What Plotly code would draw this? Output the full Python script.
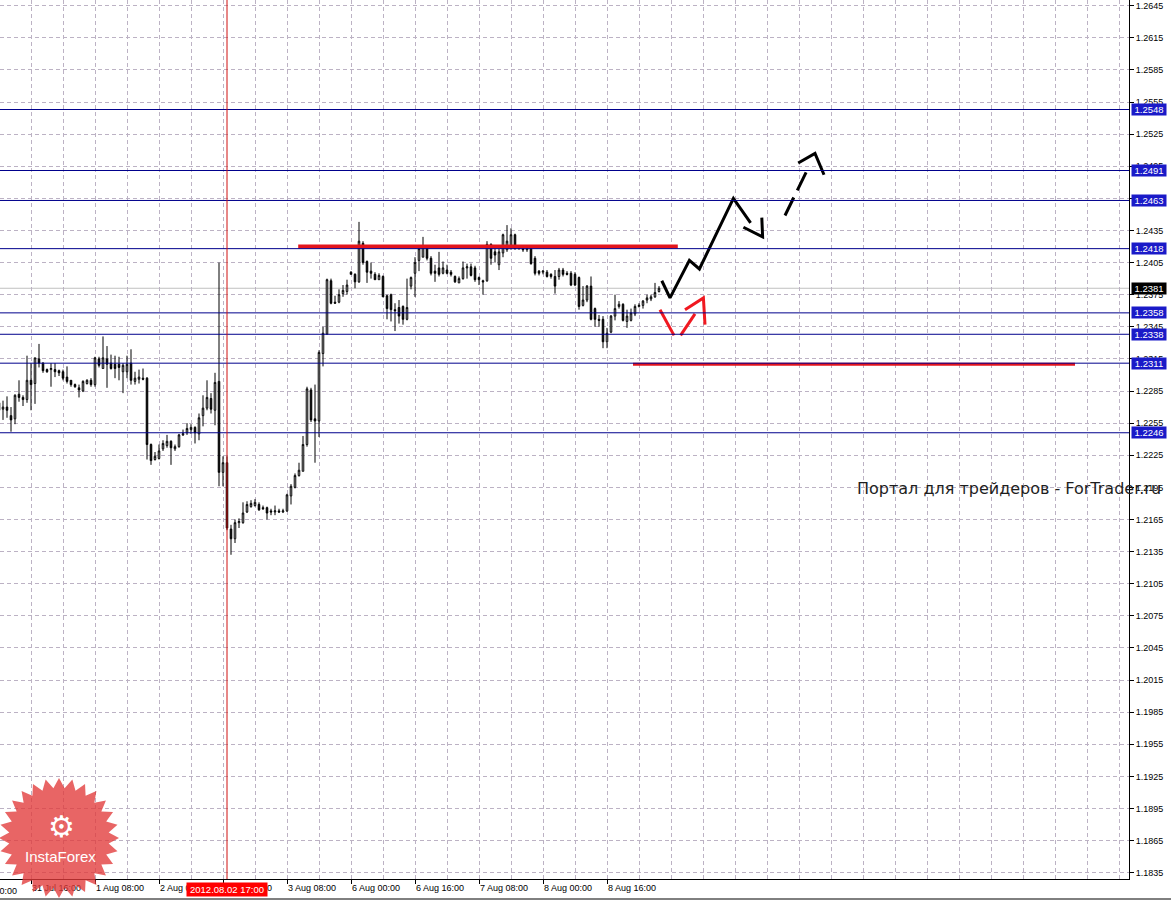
import numpy as np
import plotly.graph_objects as go

# ---------------- data (EURUSD H1, bar 0 = 31 Jul 2012 16:00, weekend skipped) ----------------
bar_index = list(range(-8, 158))

open_ = [1.2267, 1.2268, 1.2270, 1.2262, 1.2259, 1.2282, 1.2279, 1.2277,
         1.2295, 1.2292, 1.2315, 1.2311, 1.2305, 1.2305, 1.2305, 1.2304, 1.2303, 1.2298,
         1.2295, 1.2291, 1.2288, 1.2285, 1.2292, 1.2295, 1.2291, 1.2315, 1.2306, 1.2315,
         1.2311, 1.2310, 1.2310, 1.2303, 1.2303, 1.2311, 1.2294, 1.2296, 1.2297, 1.2297,
         1.2235, 1.2221, 1.2222, 1.2231, 1.2234, 1.2238, 1.2231, 1.2233, 1.2244, 1.2246,
         1.2249, 1.2251, 1.2245, 1.2262, 1.2269, 1.2278, 1.2267, 1.2294, 1.2209, 1.2218,
         1.2156, 1.2147, 1.2162, 1.2162, 1.2172, 1.2177, 1.2178, 1.2179, 1.2176, 1.2176,
         1.2173, 1.2172, 1.2173, 1.2172, 1.2173, 1.2187, 1.2195, 1.2206, 1.2210, 1.2235,
         1.2286, 1.2259, 1.2257, 1.2320, 1.2338, 1.2388, 1.2368, 1.2368, 1.2376, 1.2378,
         1.2396, 1.2394, 1.2387, 1.2423, 1.2406, 1.2397, 1.2394, 1.2389, 1.2392, 1.2374,
         1.2375, 1.2361, 1.2363, 1.2364, 1.2352, 1.2383, 1.2395, 1.2407, 1.2410, 1.2420,
         1.2409, 1.2397, 1.2400, 1.2395, 1.2398, 1.2396, 1.2392, 1.2386, 1.2390, 1.2400,
         1.2401, 1.2400, 1.2391, 1.2388, 1.2388, 1.2422, 1.2415, 1.2403, 1.2414, 1.2417,
         1.2421, 1.2431, 1.2420, 1.2418, 1.2417, 1.2418, 1.2409, 1.2397, 1.2396, 1.2396,
         1.2394, 1.2392, 1.2392, 1.2398, 1.2395, 1.2395, 1.2394, 1.2391, 1.2365, 1.2370,
         1.2383, 1.2362, 1.2352, 1.2352, 1.2331, 1.2340, 1.2355, 1.2364, 1.2366, 1.2350,
         1.2351, 1.2357, 1.2364, 1.2365, 1.2370, 1.2371, 1.2373, 1.2378]
high = [1.2280, 1.2276, 1.2280, 1.2270, 1.2282, 1.2295, 1.2281, 1.2318,
        1.2311, 1.2316, 1.2329, 1.2312, 1.2306, 1.2311, 1.2311, 1.2305, 1.2305, 1.2308,
        1.2295, 1.2292, 1.2291, 1.2295, 1.2296, 1.2297, 1.2317, 1.2317, 1.2336, 1.2327,
        1.2319, 1.2318, 1.2317, 1.2311, 1.2318, 1.2324, 1.2303, 1.2305, 1.2306, 1.2298,
        1.2236, 1.2228, 1.2235, 1.2239, 1.2244, 1.2239, 1.2235, 1.2245, 1.2249, 1.2255,
        1.2254, 1.2252, 1.2264, 1.2281, 1.2295, 1.2283, 1.2302, 1.2405, 1.2224, 1.2224,
        1.2160, 1.2165, 1.2166, 1.2181, 1.2182, 1.2183, 1.2184, 1.2181, 1.2178, 1.2177,
        1.2175, 1.2178, 1.2175, 1.2175, 1.2189, 1.2198, 1.2208, 1.2218, 1.2243, 1.2289,
        1.2288, 1.2291, 1.2323, 1.2345, 1.2390, 1.2390, 1.2374, 1.2380, 1.2384, 1.2389,
        1.2397, 1.2395, 1.2443, 1.2425, 1.2407, 1.2405, 1.2396, 1.2395, 1.2393, 1.2375,
        1.2376, 1.2367, 1.2370, 1.2365, 1.2390, 1.2392, 1.2410, 1.2420, 1.2429, 1.2421,
        1.2411, 1.2403, 1.2415, 1.2406, 1.2403, 1.2398, 1.2393, 1.2392, 1.2406, 1.2404,
        1.2404, 1.2402, 1.2392, 1.2389, 1.2425, 1.2423, 1.2418, 1.2418, 1.2432, 1.2440,
        1.2437, 1.2432, 1.2421, 1.2420, 1.2420, 1.2420, 1.2411, 1.2398, 1.2398, 1.2398,
        1.2395, 1.2398, 1.2400, 1.2400, 1.2397, 1.2397, 1.2396, 1.2392, 1.2383, 1.2384,
        1.2392, 1.2363, 1.2356, 1.2355, 1.2344, 1.2356, 1.2375, 1.2369, 1.2367, 1.2361,
        1.2362, 1.2366, 1.2367, 1.2370, 1.2375, 1.2375, 1.2386, 1.2383]
low = [1.2263, 1.2258, 1.2260, 1.2247, 1.2254, 1.2275, 1.2271, 1.2274,
       1.2267, 1.2273, 1.2307, 1.2302, 1.2302, 1.2289, 1.2298, 1.2299, 1.2295, 1.2292,
       1.2289, 1.2288, 1.2279, 1.2284, 1.2291, 1.2289, 1.2289, 1.2307, 1.2306, 1.2288,
       1.2305, 1.2297, 1.2295, 1.2283, 1.2297, 1.2291, 1.2291, 1.2292, 1.2295, 1.2221,
       1.2216, 1.2220, 1.2221, 1.2229, 1.2232, 1.2216, 1.2229, 1.2232, 1.2243, 1.2244,
       1.2245, 1.2236, 1.2239, 1.2252, 1.2267, 1.2264, 1.2253, 1.2196, 1.2196, 1.2155,
       1.2132, 1.2143, 1.2157, 1.2161, 1.2171, 1.2176, 1.2177, 1.2173, 1.2174, 1.2165,
       1.2169, 1.2169, 1.2171, 1.2171, 1.2172, 1.2179, 1.2194, 1.2205, 1.2210, 1.2233,
       1.2256, 1.2218, 1.2242, 1.2308, 1.2338, 1.2366, 1.2367, 1.2367, 1.2373, 1.2375,
       1.2394, 1.2381, 1.2386, 1.2403, 1.2386, 1.2390, 1.2389, 1.2389, 1.2373, 1.2352,
       1.2350, 1.2341, 1.2348, 1.2347, 1.2351, 1.2380, 1.2373, 1.2397, 1.2410, 1.2407,
       1.2393, 1.2387, 1.2392, 1.2394, 1.2394, 1.2392, 1.2386, 1.2386, 1.2389, 1.2390,
       1.2392, 1.2387, 1.2384, 1.2375, 1.2387, 1.2403, 1.2405, 1.2398, 1.2410, 1.2415,
       1.2417, 1.2417, 1.2417, 1.2415, 1.2415, 1.2403, 1.2393, 1.2393, 1.2394, 1.2391,
       1.2390, 1.2376, 1.2389, 1.2392, 1.2393, 1.2383, 1.2383, 1.2361, 1.2364, 1.2368,
       1.2351, 1.2345, 1.2345, 1.2325, 1.2325, 1.2339, 1.2351, 1.2362, 1.2350, 1.2344,
       1.2350, 1.2355, 1.2363, 1.2362, 1.2367, 1.2369, 1.2372, 1.2377]
close = [1.2274, 1.2270, 1.2267, 1.2258, 1.2281, 1.2279, 1.2277, 1.2295,
         1.2291, 1.2316, 1.2311, 1.2304, 1.2303, 1.2306, 1.2303, 1.2302, 1.2297, 1.2294,
         1.2291, 1.2289, 1.2286, 1.2294, 1.2295, 1.2291, 1.2316, 1.2309, 1.2316, 1.2310,
         1.2306, 1.2306, 1.2307, 1.2309, 1.2310, 1.2295, 1.2297, 1.2298, 1.2296, 1.2235,
         1.2220, 1.2224, 1.2229, 1.2236, 1.2238, 1.2232, 1.2233, 1.2244, 1.2245, 1.2250,
         1.2251, 1.2246, 1.2260, 1.2269, 1.2279, 1.2268, 1.2293, 1.2209, 1.2218, 1.2157,
         1.2147, 1.2162, 1.2163, 1.2171, 1.2179, 1.2180, 1.2181, 1.2174, 1.2175, 1.2171,
         1.2172, 1.2173, 1.2172, 1.2173, 1.2188, 1.2196, 1.2206, 1.2211, 1.2235, 1.2287,
         1.2258, 1.2257, 1.2321, 1.2339, 1.2389, 1.2367, 1.2367, 1.2375, 1.2379, 1.2384,
         1.2394, 1.2387, 1.2425, 1.2405, 1.2396, 1.2395, 1.2389, 1.2393, 1.2373, 1.2362,
         1.2361, 1.2360, 1.2355, 1.2352, 1.2363, 1.2391, 1.2405, 1.2418, 1.2420, 1.2409,
         1.2395, 1.2395, 1.2394, 1.2400, 1.2395, 1.2394, 1.2387, 1.2390, 1.2400, 1.2401,
         1.2393, 1.2389, 1.2389, 1.2387, 1.2422, 1.2409, 1.2412, 1.2415, 1.2431, 1.2425,
         1.2431, 1.2418, 1.2418, 1.2417, 1.2418, 1.2404, 1.2395, 1.2395, 1.2397, 1.2392,
         1.2392, 1.2383, 1.2398, 1.2394, 1.2394, 1.2384, 1.2384, 1.2364, 1.2370, 1.2383,
         1.2352, 1.2352, 1.2351, 1.2331, 1.2339, 1.2355, 1.2362, 1.2366, 1.2351, 1.2355,
         1.2358, 1.2364, 1.2365, 1.2369, 1.2372, 1.2373, 1.2377, 1.2381]

# horizontal support / resistance levels (blue) and current bid
levels = [1.2548, 1.2491, 1.2463, 1.2418, 1.2358, 1.2338, 1.2311, 1.2246]
bid_price = 1.2381

# red hand-drawn levels: start bar, end bar, price, width
red_x0 = [66.8, 150.5]
red_x1 = [161.7, 261.0]
red_price = [1.2420, 1.2310]
red_width = [4, 3]

# forecast arrows (bar index, price)
black_path_x = [157.7, 159.75, 164.6, 167.1, 175.6, 179.9]
black_path_y = [1.2388, 1.2372, 1.2407, 1.2399, 1.2465, 1.2442]
black_head_x = [178.1, 182.9, 182.7]
black_head_y = [1.2438, 1.2429, 1.2447]
dash_path_x = [188.5, 194.0]
dash_path_y = [1.2449, 1.2491]
dash_head_x = [191.8, 196.0, 198.25]
dash_head_y = [1.2498, 1.2507, 1.2487]
red_leg1_x = [157.25, 160.75]
red_leg1_y = [1.2361, 1.2337]
red_leg2_x = [162.4, 166.0]
red_leg2_y = [1.2337, 1.2357]
red_head_x = [163.5, 168.1, 168.5]
red_head_y = [1.2361, 1.2372, 1.2347]

# axes
price_ticks = [round(1.1835 + 0.003 * i, 4) for i in range(28)]
time_tick_bars = [0, 16, 32, 48, 64, 80, 96, 112, 128, 144]
time_tick_text = ["31 Jul 16:00", "1 Aug 08:00", "2 Aug 00:00", "2 Aug 16:00", "3 Aug 08:00",
                  "6 Aug 00:00", "6 Aug 16:00", "7 Aug 08:00", "8 Aug 00:00", "8 Aug 16:00"]
first_time_text = "31 Jul 00:00"
cursor_bar = 49
cursor_text = "2012.08.02 17:00"

# ---------------- layout geometry ----------------
W, H = 1171, 902
MR, MB = 42, 23
PW, PH = W - MR, H - MB
X_RANGE = [-7.75, 274.5]
Y_RANGE = [1.18291, 1.26503]
GRID = "#bcb2c4"
LEVEL_COLOR = "#00008c"
LABEL_BG = "#1a1ac8"
FONT = "Liberation Sans"

fig = go.Figure()

fig.add_trace(go.Candlestick(
    x=bar_index, open=open_, high=high, low=low, close=close,
    increasing=dict(line=dict(color="black", width=1), fillcolor="white"),
    decreasing=dict(line=dict(color="black", width=1), fillcolor="black"),
    whiskerwidth=0, hoverinfo="none", showlegend=False))

for x0, x1, p, w in zip(red_x0, red_x1, red_price, red_width):
    fig.add_trace(go.Scatter(x=[x0, x1], y=[p, p], mode="lines",
                             line=dict(color="#e3141c", width=w), hoverinfo="skip", showlegend=False))

for xs, ys, col, dash in [(black_path_x, black_path_y, "black", "solid"),
                          (black_head_x, black_head_y, "black", "solid"),
                          (dash_path_x, dash_path_y, "black", "20px,8px"),
                          (dash_head_x, dash_head_y, "black", "solid"),
                          (red_leg1_x, red_leg1_y, "#f01820", "solid"),
                          (red_leg2_x, red_leg2_y, "#f01820", "solid"),
                          (red_head_x, red_head_y, "#f01820", "solid")]:
    fig.add_trace(go.Scatter(x=xs, y=ys, mode="lines",
                             line=dict(color=col, width=3, dash=dash),
                             hoverinfo="skip", showlegend=False))

# level lines
for lv in levels:
    fig.add_shape(type="line", xref="paper", x0=0, x1=1, yref="y", y0=lv, y1=lv,
                  line=dict(color=LEVEL_COLOR, width=1), layer="above")
fig.add_shape(type="line", xref="paper", x0=0, x1=1, yref="y", y0=bid_price, y1=bid_price,
              line=dict(color="#c0c0c0", width=1), layer="below")
# cursor line
fig.add_shape(type="line", xref="x", x0=cursor_bar, x1=cursor_bar, yref="paper", y0=0, y1=1,
              line=dict(color="#d01010", width=1), layer="above")
# window bottom border
fig.add_shape(type="line", xref="paper", x0=0, x1=W / PW, yref="paper",
              y0=1 - 899 / PH, y1=1 - 899 / PH, line=dict(color="black", width=1))

annotations = []
for lv in levels:
    annotations.append(dict(xref="paper", x=1, xanchor="left", xshift=2, yref="y", y=lv,
                            yanchor="middle", text=f"{lv:.4f}", showarrow=False,
                            bgcolor=LABEL_BG, font=dict(family=FONT, size=9.5, color="white"),
                            width=34, align="center", borderpad=0))
annotations.append(dict(xref="paper", x=1, xanchor="left", xshift=2, yref="y", y=bid_price,
                        yanchor="middle", text=f"{bid_price:.4f}", showarrow=False,
                        bgcolor="black", font=dict(family=FONT, size=9.5, color="white"),
                        width=34, align="center", borderpad=0))
annotations.append(dict(xref="x", x=cursor_bar, xanchor="center", yref="paper", y=0,
                        yanchor="top", yshift=-3, text=cursor_text, showarrow=False,
                        bgcolor="#ff0000", font=dict(family=FONT, size=9.5, color="white"),
                        width=78, borderpad=1))
annotations.append(dict(xref="paper", x=0, xanchor="left", xshift=-34, yref="paper", y=0,
                        yanchor="top", yshift=-5, text=first_time_text, showarrow=False,
                        font=dict(family=FONT, size=9, color="black")))
annotations.append(dict(xref="paper", x=855 / PW, xanchor="left", yref="paper", y=1 - 489 / PH,
                        yanchor="middle", text="Портал для трейдеров - ForTrader.ru",
                        showarrow=False, font=dict(family="DejaVu Sans", size=16, color="#1e1e1e")))

# InstaForex seal
cx, cy, R, r, n = 59, 838, 60, 50, 28
ang = np.pi / 2 + np.arange(2 * n) * np.pi / n
rad = np.where(np.arange(2 * n) % 2 == 0, R, r)
sx = (cx + rad * np.cos(ang)) / PW
sy = 1 - (cy - rad * np.sin(ang)) / PH
path = "M " + " L ".join(f"{a:.5f},{b:.5f}" for a, b in zip(sx, sy)) + " Z"
fig.add_shape(type="path", path=path, xref="paper", yref="paper",
              fillcolor="rgba(226,58,58,0.78)", line=dict(width=0), layer="above")
annotations.append(dict(xref="paper", yref="paper", x=61 / PW, y=1 - 826 / PH, text="⚙",
                        showarrow=False, font=dict(family="DejaVu Sans", size=30, color="white"),
                        xanchor="center", yanchor="middle"))
annotations.append(dict(xref="paper", yref="paper", x=60 / PW, y=1 - 856 / PH, text="InstaForex",
                        showarrow=False, font=dict(family=FONT, size=15, color="white"),
                        xanchor="center", yanchor="middle"))

fig.update_layout(
    width=W, height=H, margin=dict(l=0, r=MR, t=0, b=MB, pad=0),
    paper_bgcolor="white", plot_bgcolor="white", showlegend=False,
    annotations=annotations, hovermode=False,
    xaxis=dict(range=X_RANGE, rangeslider=dict(visible=False), showline=True,
               linecolor="black", linewidth=1, ticks="outside", ticklen=4, tickcolor="black",
               tickmode="array", tickvals=time_tick_bars, ticktext=time_tick_text,
               ticklabelposition="outside right",
               tickfont=dict(family=FONT, size=9, color="black"),
               showgrid=True, gridcolor=GRID, griddash="4px,3px", gridwidth=1, zeroline=False,
               minor=dict(tickmode="array", tickvals=list(range(-8, 280, 8)), showgrid=True,
                          gridcolor=GRID, griddash="4px,3px", gridwidth=1, ticks=""),
               fixedrange=True),
    yaxis=dict(range=Y_RANGE, side="right", showline=True, linecolor="black", linewidth=1,
               ticks="outside", ticklen=4, tickcolor="black", tickmode="array",
               tickvals=price_ticks, ticktext=[f"{t:.4f}" for t in price_ticks],
               tickfont=dict(family=FONT, size=9, color="black"),
               showgrid=True, gridcolor=GRID, griddash="4px,3px", gridwidth=1, zeroline=False,
               fixedrange=True),
    boxgap=0.45,
)

fig.write_html("out.html", config={"displayModeBar": False, "staticPlot": True},
               post_script="document.body.style.margin='0';document.body.style.overflow='hidden';")
